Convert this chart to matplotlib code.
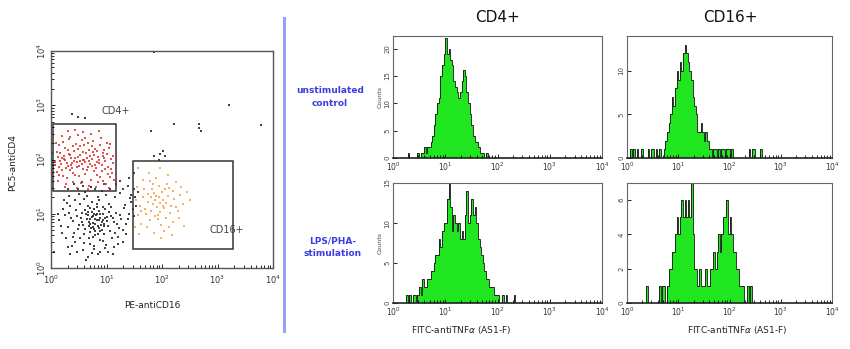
import numpy as np
import matplotlib
matplotlib.use("Agg")
import matplotlib.pyplot as plt
from matplotlib.patches import Rectangle


# gated populations, log10 coordinates (x = PE-antiCD16, y = PC5-antiCD4)
cd4_pts = [
    (0.12,2.05),(0.18,1.92),(0.25,2.21),(0.31,1.88),(0.36,2.02),(0.42,2.15),(0.47,1.95),(0.52,2.08),(0.58,1.83),(0.63,2.12),
    (0.69,1.97),(0.74,2.25),(0.79,1.90),(0.85,2.04),(0.91,1.78),(0.96,2.18),(1.02,1.86),(1.08,2.01),(0.15,1.72),(0.22,2.33),
    (0.28,1.65),(0.34,2.41),(0.40,1.76),(0.45,2.28),(0.50,1.69),(0.56,2.36),(0.61,1.74),(0.67,2.30),(0.72,1.63),(0.78,2.09),
    (0.83,1.71),(0.89,2.27),(0.94,1.60),(1.00,2.11),(1.06,1.67),(1.12,1.94),(0.08,1.89),(0.14,2.26),(0.20,1.81),(0.26,1.99),
    (0.32,2.10),(0.38,1.84),(0.44,2.03),(0.49,2.19),(0.55,1.91),(0.60,2.00),(0.66,1.87),(0.71,2.06),(0.77,1.79),(0.82,2.16),
    (0.87,1.93),(0.93,2.07),(0.98,1.82),(1.04,2.22),(1.10,1.75),(0.10,2.14),(0.17,1.98),(0.23,2.07),(0.29,1.94),(0.35,1.80),
    (0.41,1.97),(0.46,1.86),(0.53,2.24),(0.57,1.99),(0.64,2.03),(0.70,1.92),(0.75,2.13),(0.81,1.85),(0.86,2.00),(0.92,1.89),
    (0.97,1.97),(1.03,1.73),(0.13,1.61),(0.19,2.44),(0.27,1.55),(0.33,2.37),(0.39,1.58),(0.48,2.46),(0.54,1.57),(0.62,2.40),
    (0.68,1.52),(0.76,2.34),(0.84,1.59),(0.90,2.39),(0.99,1.54),(1.07,2.28),(1.13,1.62),(0.11,1.77),(0.16,2.12),(0.21,1.69),
    (0.24,2.01),(0.30,2.17),(0.37,1.93),(0.43,1.71),(0.51,1.88),(0.59,2.27),(0.65,1.80),(0.73,2.01),(0.80,2.20),(0.88,1.68),
    (0.95,2.02),(1.01,2.31),(1.09,1.83),(0.07,1.95),(0.09,2.31),(0.31,2.52),(0.44,2.55),(0.58,2.50),(0.72,2.47),(0.86,2.52),
    (0.25,1.49),(0.46,1.47),(0.66,1.46),(0.81,1.50),(1.05,1.48),(0.35,2.08),(0.53,1.97),(0.62,1.95),(0.40,2.24),(0.27,1.84),
    (0.74,1.88),(0.57,2.14),(0.19,2.02),(0.48,2.05),(0.83,1.96),(0.36,1.90),(0.69,2.18),(0.94,2.12),(0.15,1.86),(1.11,2.06),
]

other_pts = [
    (0.82,0.88),(0.75,0.95),(0.90,0.80),(0.68,0.85),(0.97,0.92),(0.78,0.72),(0.86,1.05),(0.63,1.00),(1.02,0.78),(0.71,0.66),
    (0.93,1.12),(0.58,0.79),(1.08,0.96),(0.80,0.60),(0.66,1.15),(1.13,0.85),(0.54,0.93),(0.88,0.52),(0.74,1.22),(1.18,1.02),
    (0.49,0.71),(0.96,0.63),(0.60,1.28),(1.22,0.74),(0.45,1.06),(0.84,1.30),(0.70,0.45),(1.05,1.18),(0.40,0.86),(1.27,0.90),
    (0.52,0.55),(0.99,0.42),(0.35,1.14),(1.31,1.10),(0.77,0.35),(0.62,1.40),(1.10,0.55),(0.30,0.75),(0.91,1.42),(1.36,0.82),
    (0.43,0.48),(1.15,1.30),(0.25,0.98),(0.57,0.33),(1.40,1.00),(0.72,1.50),(0.20,0.65),(1.20,0.45),(0.33,1.32),(1.45,1.22),
    (0.85,0.25),(0.48,1.45),(0.15,0.88),(1.25,1.38),(0.38,0.40),(1.02,0.30),(0.67,0.20),(1.50,0.95),(0.28,1.20),(0.95,1.55),
    (0.81,0.97),(0.76,0.83),(0.87,0.74),(0.73,1.03),(0.94,0.99),(0.69,0.77),(0.83,1.12),(0.64,0.91),(1.00,0.86),(0.79,0.68),
    (0.89,0.93),(0.61,1.07),(1.04,1.03),(0.75,0.58),(0.56,0.84),(0.92,0.70),(0.70,1.10),(1.07,0.69),(0.59,0.62),(0.98,1.08),
    (0.84,0.78),(0.78,1.00),(0.71,0.90),(0.86,0.89),(0.80,0.81),(0.66,0.97),(0.91,0.85),(0.76,0.76),(0.88,1.00),(0.73,0.94),
    (0.96,0.77),(0.62,0.72),(1.01,0.94),(0.55,1.02),(1.12,0.92),(0.50,0.80),(1.16,0.65),(0.46,0.96),(0.82,1.18),(0.68,0.55),
    (1.09,1.12),(0.53,1.18),(0.94,0.50),(0.42,0.65),(1.24,0.98),(0.36,0.92),(1.19,0.81),(0.60,0.46),(0.87,1.25),(1.29,0.70),
    (0.32,1.02),(0.97,0.36),(0.44,1.25),(1.33,1.17),(0.78,0.40),(0.22,1.08),(1.38,0.91),(0.65,1.33),(1.14,0.38),(0.27,0.55),
    (1.06,1.45),(0.51,1.36),(1.42,1.29),(0.18,0.78),(0.89,0.30),(0.39,0.58),(1.47,1.08),(0.74,0.28),(0.24,1.25),(1.21,0.58),
    (0.12,1.00),(1.53,1.15),(0.58,1.52),(1.35,0.62),(0.31,0.38),(0.99,1.35),(0.80,1.45),(0.47,0.30),(1.11,0.25),(0.63,0.15),
    (0.85,0.62),(0.72,0.73),(0.93,0.89),(0.67,1.04),(0.79,0.91),(0.88,0.68),(0.77,1.08),(0.95,0.81),(0.70,0.82),(0.83,0.99),
    (1.45,1.35),(1.49,1.45),(1.38,1.52),(1.52,1.30),(1.30,1.45),(0.42,1.55),(0.30,1.45),(0.55,1.58),(1.17,1.55),(1.25,1.60),
    (0.00,1.80),(0.00,1.86),(0.00,1.92),(0.00,1.97),(0.00,2.03),(0.00,2.08),(0.01,1.75),(0.01,2.12),(0.00,1.65),(0.02,1.90),
    # stray events
    (0.38,2.83),(0.48,2.78),(0.62,2.77),(1.81,2.52),(1.86,2.07),(1.96,2.10),(2.02,2.15),(2.05,2.07),(1.95,2.00),(2.22,2.65),
    (2.66,2.65),(2.67,2.58),(2.70,2.53),(3.21,3.00),(3.79,2.63),(1.86,3.99),(1.56,1.40),(1.40,1.65),(1.50,1.75),(1.30,0.48),
    (0.05,0.30),(0.35,0.25),
]

cd16_pts = [
    (1.96,1.19),(1.88,1.25),(2.04,1.10),(1.81,1.05),(2.10,1.32),(1.92,0.98),(2.00,1.40),(1.75,1.22),(2.16,1.15),(1.86,1.38),
    (2.07,0.92),(1.70,1.08),(2.22,1.28),(1.94,1.52),(1.78,0.88),(2.13,1.48),(1.65,1.30),(2.28,1.05),(1.99,0.80),(1.83,1.55),
    (2.19,0.85),(1.60,1.15),(2.33,1.35),(1.90,1.65),(1.73,0.75),(2.25,1.58),(1.56,0.98),(2.38,1.18),(2.03,0.68),(1.68,1.45),
    (2.11,1.72),(1.62,0.82),(2.30,0.92),(1.85,0.65),(2.45,1.40),(1.53,1.25),(1.97,1.85),(2.18,0.60),(1.77,1.75),(2.40,0.78),
    (1.91,1.12),(2.02,1.26),(1.84,1.18),(2.08,1.20),(1.97,1.03),(1.89,1.33),(2.14,1.02),(1.80,1.30),(2.05,1.45),(1.93,0.90),
    (1.58,0.62),(1.55,1.50),(1.52,0.75),(1.66,1.62),(2.20,1.42),(1.71,1.00),(2.26,1.12),(1.95,1.30),(2.01,1.15),(1.87,0.95),
    (1.82,1.45),(2.09,1.55),(1.74,1.36),(2.35,1.50),(1.98,0.55),(1.63,1.05),(2.50,1.25),(2.12,0.75),(1.79,1.60),(1.57,1.85),
]

# gates (log10 x0, x1, y0, y1)
cd4_gate = (0.03, 1.18, 1.42, 2.65)
cd16_gate = (1.48, 3.28, 0.35, 1.97)

# TNF histograms: counts per channel, 32 channels per decade, first channel index
BINS_PER_DECADE = 32
cd4_unstim_start = 8
cd4_unstim = [0, 1, 0, 0, 0, 0, 0, 1, 0, 1, 1, 2, 1, 2, 2, 3, 4, 6, 8, 10, 11, 15, 17, 19, 22, 19,
              20, 18, 17, 14, 13, 12, 11, 12, 14, 16, 15, 12, 10, 8, 6, 4, 3, 3, 2, 1, 1, 1, 0, 1, 0]
cd16_unstim_start = 0
cd16_unstim = [0, 0, 1, 0, 1, 0, 1, 0, 0, 1, 0, 0, 0, 1, 0, 1, 1, 0, 1, 0, 1, 0, 0, 1, 2, 3, 4, 5,
               7, 6, 8, 10, 9, 11, 10, 12, 13, 12, 11, 10, 9, 7, 6, 5, 3, 3, 4, 3, 2, 3, 2, 1, 1, 0,
               1, 1, 0, 1, 0, 1, 1, 0, 1, 1, 0, 1, 0, 0, 0, 0, 0, 0, 0, 0, 0, 0, 1, 0, 1, 1, 0, 0, 0,
               1, 0]
cd4_lps_start = 7
cd4_lps = [0, 1, 0, 1, 0, 1, 1, 0, 1, 2, 1, 3, 2, 2, 3, 3, 4, 4, 5, 6, 6, 8, 7, 9, 10, 10, 13, 15,
           12, 9, 11, 10, 9, 10, 8, 9, 8, 11, 14, 10, 11, 13, 11, 12, 10, 8, 7, 6, 5, 4, 3, 3, 2, 2,
           2, 1, 1, 1, 0, 0, 1, 0, 1, 0, 0, 0, 0, 1, 0]
cd16_lps_start = 11
cd16_lps = [0, 1, 0, 0, 0, 0, 0, 0, 0, 1, 0, 1, 1, 0, 1, 2, 2, 3, 3, 4, 5, 4, 5, 6, 5, 6, 5, 6, 5,
            7, 4, 2, 2, 1, 2, 1, 1, 1, 2, 1, 1, 2, 2, 3, 2, 3, 4, 3, 4, 5, 5, 6, 4, 5, 4, 3, 3, 2,
            2, 1, 1, 1, 0, 0, 1, 0, 1, 0]

hist_ylims = [22.3, 14, 15, 7]
hist_yticks = [[0, 5, 10, 15, 20], [0, 5, 10], [0, 5, 10, 15], [0, 2, 4, 6]]

W, H = 850, 349
fig = plt.figure(figsize=(W / 100, H / 100), dpi=100)
fig.patch.set_facecolor("white")


def box(x0, y0, x1, y1):
    # pixel box (top-left origin) -> figure fraction rect
    return [x0 / W, 1 - y1 / H, (x1 - x0) / W, (y1 - y0) / H]


def log_ticks(ax, axis, rotate=False, size=6):
    major = [1, 10, 100, 1000, 10000]
    labels = [r"$10^{%d}$" % i for i in range(5)]
    minor = [m * 10 ** d for d in range(4) for m in range(2, 10)]
    if axis == "x":
        ax.set_xticks(major)
        ax.set_xticklabels(labels, fontsize=size, color="#333333")
        ax.set_xticks(minor, minor=True)
        ax.set_xticklabels([], minor=True)
    else:
        ax.set_yticks(major)
        ax.set_yticklabels(labels, fontsize=size, color="#333333",
                           rotation=90 if rotate else 0, va="center")
        ax.set_yticks(minor, minor=True)
        ax.set_yticklabels([], minor=True)


# ---- dot plot ----
ax = fig.add_axes(box(51, 51, 273, 268))
ax.set_xscale("log")
ax.set_yscale("log")
ax.set_xlim(1, 1e4)
ax.set_ylim(1, 1e4)

for pts, col in [(other_pts, "#222222"), (cd4_pts, "#e2342e"), (cd16_pts, "#f4a640")]:
    xs = [10 ** p[0] for p in pts]
    ys = [10 ** p[1] for p in pts]
    ax.scatter(xs, ys, s=4, marker="s", c=col, linewidths=0, alpha=0.85)

for g in (cd4_gate, cd16_gate):
    ax.add_patch(Rectangle((10 ** g[0], 10 ** g[2]), 10 ** g[1] - 10 ** g[0],
                           10 ** g[3] - 10 ** g[2], fill=False, ec="#333333", lw=1.1))
ax.text(10 ** 0.91, 10 ** 2.9, "CD4+", fontsize=7, color="#444444", va="center")
ax.text(10 ** 2.86, 10 ** 0.70, "CD16+", fontsize=7, color="#444444", va="center")

log_ticks(ax, "x")
log_ticks(ax, "y", rotate=True)
ax.tick_params(which="both", direction="in", length=2, width=0.6, pad=2)
ax.tick_params(which="major", length=3)
ax.tick_params(axis="x", which="major", pad=4)
for s in ax.spines.values():
    s.set_color("#555555")
    s.set_linewidth(1.0)
fig.text(152 / W, 1 - 305 / H, "PE-antiCD16", fontsize=6.5, ha="center", va="center", color="#222222")
fig.text(13 / W, 1 - 163 / H, "PC5-antiCD4", fontsize=6.5, ha="center", va="center",
         rotation=90, color="#222222")

# divider
fig.add_artist(plt.Line2D([283.5 / W, 283.5 / W], [1 - 18 / H, 1 - 331 / H],
                          color="#9aa2f0", lw=2.2))

# ---- histograms ----
panels = [
    (box(393, 36, 602, 158), cd4_unstim, cd4_unstim_start),
    (box(627, 36, 832, 158), cd16_unstim, cd16_unstim_start),
    (box(393, 183, 602, 303), cd4_lps, cd4_lps_start),
    (box(627, 183, 832, 303), cd16_lps, cd16_lps_start),
]
for k, (rect, counts, start) in enumerate(panels):
    hx = fig.add_axes(rect)
    hx.set_xscale("log")
    edges = 10 ** (np.arange(start, start + len(counts) + 1) / BINS_PER_DECADE)
    hx.stairs(counts, edges, fill=True, color="#1fe61f", lw=0)
    hx.stairs(counts, edges, color="#111111", lw=0.6)
    hx.set_xlim(1, 1e4)
    hx.set_ylim(0, hist_ylims[k])
    log_ticks(hx, "x", size=5.5)
    hx.set_yticks(hist_yticks[k])
    hx.set_yticklabels([str(t) for t in hist_yticks[k]], fontsize=5, color="#444444",
                       rotation=90, va="center")
    hx.tick_params(which="both", direction="in", length=2, width=0.6, pad=2)
    hx.tick_params(which="major", length=3)
    for s in hx.spines.values():
        s.set_color("#666666")
        s.set_linewidth(0.8)
    hx.spines["bottom"].set_color("#222222")
    hx.spines["bottom"].set_linewidth(1.2)
    if k % 2 == 0:
        hx.set_ylabel("Counts", fontsize=4.5, color="#444444", labelpad=1)

fig.text(497 / W, 1 - 18 / H, "CD4+", fontsize=11, ha="center", va="center", color="#111111")
fig.text(730 / W, 1 - 18 / H, "CD16+", fontsize=11, ha="center", va="center", color="#111111")

fig.text(330 / W, 1 - 97 / H, "unstimulated\ncontrol", fontsize=6.5, ha="center", va="center",
         color="#3a3ee0", fontweight="bold", linespacing=1.5)
fig.text(333 / W, 1 - 247 / H, "LPS/PHA-\nstimulation", fontsize=6.5, ha="center", va="center",
         color="#3a3ee0", fontweight="bold", linespacing=1.5)

for cx in (461, 737):
    fig.text(cx / W, 1 - 330 / H, r"FITC-antiTNF$\alpha$ (AS1-F)", fontsize=6.5, ha="center",
             va="center", color="#222222")

fig.savefig("out.png", dpi=100)
